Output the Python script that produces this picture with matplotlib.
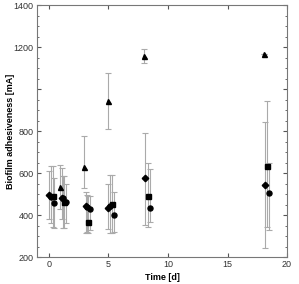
import matplotlib
matplotlib.use("Agg")
import matplotlib.pyplot as plt
from matplotlib.ticker import MultipleLocator

plt.rcParams["font.family"] = ["Liberation Sans", "DejaVu Sans"]

# series: time [d], value [mA], lower / upper error bar ends
tri_t = [0.95, 2.97, 5.0, 8.0, 18.05]
tri_v = [533, 629, 944, 1157, 1165]
tri_lo = [428, 527, 810, 1122, 1165]
tri_hi = [638, 776, 1078, 1189, 1165]

dia_t = [0.0, 1.1, 3.1, 5.0, 8.05, 18.15]
dia_v = [495, 482, 444, 435, 575, 543]
dia_lo = [380, 380, 313, 332, 351, 241]
dia_hi = [611, 622, 508, 546, 792, 844]

cir1_t = [0.17, 1.2, 3.2, 5.15]
cir1_v = [484, 479, 440, 443]
cir1_lo = [360, 337, 320, 316]
cir1_hi = [633, 584, 495, 590]

sq_t = [0.3, 1.3, 3.28, 5.3, 8.28, 18.35]
sq_v = [493, 463, 368, 451, 492, 633]
sq_lo = [345, 337, 315, 316, 341, 344]
sq_hi = [633, 585, 490, 590, 646, 944]

cir2_t = [0.45, 1.45, 3.45, 5.45, 8.45, 18.5]
cir2_v = [455, 460, 430, 400, 435, 503]
cir2_lo = [340, 360, 330, 320, 368, 329]
cir2_hi = [575, 550, 492, 511, 620, 649]

fig = plt.figure(figsize=(2.99, 2.84), dpi=100)
ax = fig.add_axes([0.124, 0.095, 0.836, 0.887])

series = [
    (tri_t, tri_v, tri_lo, tri_hi, "^"),
    (dia_t, dia_v, dia_lo, dia_hi, "D"),
    (cir1_t, cir1_v, cir1_lo, cir1_hi, "o"),
    (sq_t, sq_v, sq_lo, sq_hi, "s"),
    (cir2_t, cir2_v, cir2_lo, cir2_hi, "o"),
]
# error bars first, markers on top
for t, v, lo, hi, m in series:
    err = [[a - b for a, b in zip(v, lo)], [b - a for a, b in zip(v, hi)]]
    ax.errorbar(t, v, yerr=err, fmt="none", ecolor="#aaaaaa",
                elinewidth=0.8, capsize=2, capthick=0.8, zorder=1)
for t, v, lo, hi, m in series:
    ax.plot(t, v, linestyle="none", marker=m, color="black",
            markersize=3.6 if m != "D" else 3.3, zorder=3)

ax.set_xlim(-1, 20)
ax.set_ylim(200, 1400)
ax.set_xticks([0, 5, 10, 15, 20])
ax.set_yticks([200, 400, 600, 800, 1000, 1200, 1400])
ax.set_yticklabels(["200", "400", "600", "800", "", "1200", "1400"])
ax.yaxis.set_minor_locator(MultipleLocator(50))
ax.tick_params(direction="in", which="both", top=True, right=True,
               labelsize=6.5, colors="#555555", labelcolor="#333333", pad=2.5)
ax.tick_params(which="major", length=3)
ax.tick_params(which="minor", length=1.5)
for s in ax.spines.values():
    s.set_color("#777777")
    s.set_linewidth(0.8)

ax.set_xlabel("Time [d]", fontsize=6.5, fontweight="bold")
ax.xaxis.set_label_coords(0.5, -0.065)
ax.set_ylabel("Biofilm adhesiveness [mA]", fontsize=6.5, fontweight="bold")
ax.yaxis.set_label_coords(-0.09, 0.5)

fig.savefig("out.png", dpi=100)
